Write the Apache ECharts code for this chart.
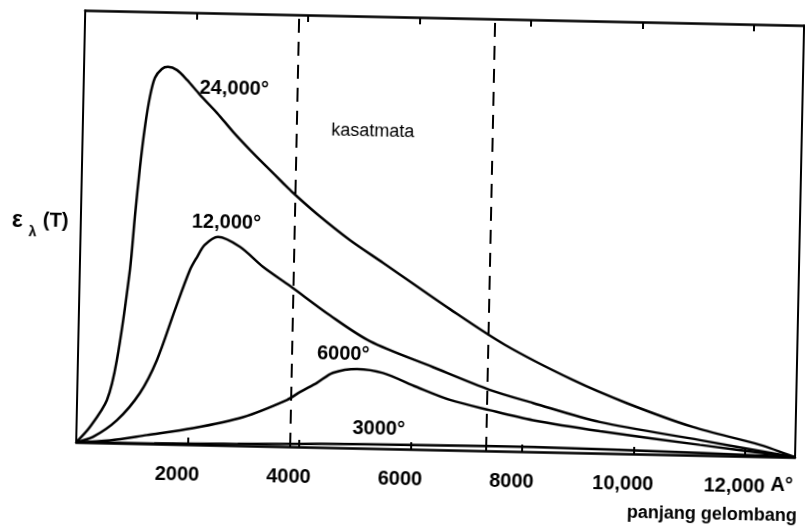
<!DOCTYPE html>
<html>
<head>
<meta charset="utf-8">
<script src="https://cdn.jsdelivr.net/npm/echarts@6/dist/echarts.min.js"></script>
<style>
html, body { margin: 0; padding: 0; background: #fff; overflow: hidden; }
/* the scan is tilted a little, so the whole chart is turned with it */
#main { width: 805px; height: 527px; transform: rotate(1.2deg); transform-origin: 50% 50%; }
</style>
</head>
<body>
<div id="main"></div>
<script>
// panjang gelombang (A°) dan intensitas relatif
var lambda24000 = [0, 241, 536, 699, 899, 968, 1041, 1115, 1193, 1276, 1398, 1506, 1669, 1851, 2090, 2402, 2697, 3007, 3319, 3612, 3794, 4233, 4835, 5437, 6655, 7656, 8888, 9865, 11059, 12268, 12900];
var value24000  = [0, 3.6, 9.9, 19.2, 40.1, 52.4, 64.0, 73.3, 80.3, 84.7, 86.8, 87.3, 86.6, 84.4, 81.0, 76.9, 72.6, 68.5, 64.6, 61.0, 58.8, 54.0, 48.1, 43.0, 32.6, 24.6, 16.8, 11.7, 6.5, 2.7, 0];

var lambda12000 = [0, 298, 723, 1125, 1417, 1722, 1975, 2097, 2235, 2465, 2865, 3285, 3777, 4503, 5231, 6373, 7403, 8179, 9388, 11191, 12900];
var value12000  = [0, 1.3, 5.3, 11.7, 19.4, 31.1, 40.4, 43.4, 46.3, 48.2, 46.0, 41.5, 37.2, 30.6, 24.8, 19.1, 14.1, 11.3, 7.2, 3.5, 0];

var lambda6000 = [0, 605, 1267, 2090, 2982, 3766, 3996, 4297, 4580, 5009, 5476, 6092, 6690, 7412, 8186, 9392, 11191, 12900];
var value6000  = [0, 0.6, 2.0, 3.8, 6.6, 10.8, 12.7, 14.9, 17.3, 18.3, 17.5, 14.4, 11.6, 9.4, 7.3, 5.1, 2.4, 0];

var lambda3000 = [0, 1400, 2900, 4400, 5950, 7450, 8950, 10500, 12000, 12900];
var value3000  = [0, 0.1, 0.4, 0.8, 1.0, 1.1, 1.0, 0.7, 0.3, 0];

// batas daerah kasatmata
var visibleBounds = [3830, 7360];

function pairs(xs, ys) {
  return xs.map(function (x, i) { return [x, ys[i]]; });
}

var FONT = '"Liberation Sans", Arial, sans-serif';
var PLOT_H = 432;

function tickText(v) {
  if (v === 0) return '';
  if (v >= 10000) return Math.floor(v / 1000) + ',000';
  return String(v);
}

function curve(data) {
  return {
    type: 'line',
    data: data,
    smooth: 0.3,
    showSymbol: false,
    silent: true,
    lineStyle: { color: '#000', width: 2.5 }
  };
}

// frame axes: line + labels, no ticks
function xAxisBase(pos, showLabel) {
  return {
    type: 'value',
    position: pos,
    min: 0,
    max: 12900,
    interval: 2000,
    axisLine: { show: true, onZero: false, lineStyle: { color: '#000', width: 2.5 } },
    axisTick: { show: false },
    axisLabel: {
      show: showLabel,
      margin: 20,
      padding: [0, 20, 0, 0],
      color: '#000',
      fontFamily: FONT,
      fontWeight: 'bold',
      fontSize: 20,
      showMaxLabel: false,
      formatter: tickText
    },
    splitLine: { show: false }
  };
}

// tick-only axis moved to the opposite edge, so its outside ticks point into the plot
function xTickAxis(pos) {
  return {
    type: 'value',
    position: pos,
    offset: -PLOT_H,
    min: 0,
    max: 12900,
    interval: 2000,
    axisLine: { show: false, onZero: false },
    axisTick: { show: true, length: 7, lineStyle: { color: '#000', width: 2 } },
    axisLabel: { show: false },
    splitLine: { show: false }
  };
}

function yAxisBase(pos) {
  return {
    type: 'value',
    position: pos,
    min: 0,
    max: 100,
    axisLine: { show: true, onZero: false, lineStyle: { color: '#000', width: 2 } },
    axisTick: { show: false },
    axisLabel: { show: false },
    splitLine: { show: false }
  };
}

function label(text, x, y, size, weight, align) {
  return {
    type: 'text',
    x: x,
    y: y,
    silent: true,
    style: {
      text: text,
      fill: '#000',
      font: (weight || 'bold') + ' ' + size + 'px ' + FONT,
      textAlign: align || 'left',
      textVerticalAlign: 'middle'
    }
  };
}

var series = [
  curve(pairs(lambda24000, value24000)),
  curve(pairs(lambda12000, value12000)),
  curve(pairs(lambda6000, value6000)),
  curve(pairs(lambda3000, value3000))
];
series[0].markLine = {
  silent: true,
  symbol: 'none',
  label: { show: false },
  lineStyle: { color: '#000', type: [14, 9], width: 2 },
  data: visibleBounds.map(function (b) { return { xAxis: b }; })
};

var option = {
  animation: false,
  backgroundColor: '#fff',
  grid: { left: 80, right: 6, top: 17, bottom: 78 },
  xAxis: [xAxisBase('bottom', true), xAxisBase('top', false), xTickAxis('top'), xTickAxis('bottom')],
  yAxis: [yAxisBase('left'), yAxisBase('right')],
  graphic: [
    label('24,000°', 196, 92, 20),
    label('12,000°', 191, 226, 20),
    label('6000°', 319, 355, 20),
    label('3000°', 356, 429, 20),
    label('kasatmata', 370, 132, 18, 'normal', 'center'),
    label('ε', 11, 229, 23),
    label('λ', 28, 240, 14),
    label('(T)', 42, 228, 20),
    label('A°', 775, 477, 20),
    label('panjang gelombang', 802, 508, 18, 'bold', 'right')
  ],
  series: series
};

var myChart = echarts.init(document.getElementById('main'));
myChart.setOption(option, true);
</script>
</body>
</html>
